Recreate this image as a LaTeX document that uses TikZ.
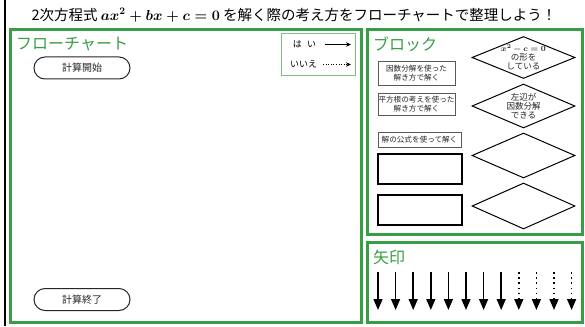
\documentclass[tikz,border=0pt]{standalone}
\usepackage{fontspec}
\setmainfont{Noto Sans CJK JP}
\usepackage{amsmath}
\usetikzlibrary{shapes.geometric,arrows.meta}
\definecolor{pgreen}{RGB}{56,158,70}
\definecolor{lgreen}{RGB}{125,192,128}
\begin{document}
\begin{tikzpicture}[x=1pt,y=-1pt,
  panel/.style={draw=pgreen,line width=3pt},
  ptitle/.style={text=pgreen,font=\fontsize{16}{16}\selectfont,anchor=west,inner sep=0pt},
  term/.style={draw=black!85,line width=1pt,rounded corners=11pt,minimum width=96pt,minimum height=22pt,inner sep=0pt,font=\fontsize{10}{10}\selectfont,text=black!85},
  blk/.style={draw=black!65,line width=0.8pt,inner sep=0pt,align=center,font=\fontsize{7.6}{9}\selectfont,text=black!85},
  eblk/.style={draw=black,line width=1.5pt,minimum width=84pt,minimum height=30pt,inner sep=0pt},
  diam/.style={draw=black,line width=1pt,diamond,minimum width=103pt,minimum height=44pt,inner sep=0pt},
  dtext/.style={align=center,font=\fontsize{8.5}{9}\selectfont,inner sep=0pt,text=black!85},
  solidarr/.style={line width=1.5pt,-{Triangle[width=9pt,length=11pt]}},
  dotarr/.style={line width=1.6pt,dash pattern=on 1.6pt off 3.6pt,-{Triangle[width=9pt,length=11pt]}},
  legtext/.style={font=\fontsize{9}{9}\selectfont,inner sep=0pt}]
\useasboundingbox (0,0) rectangle (585,326);
\fill[white] (0,0) rectangle (585,326);
% outer black line
\draw[black,line width=2pt] (5,0) -- (5,326);
% title
\node[inner sep=0pt,font=\fontsize{14.5}{14.5}\selectfont] (title) at (294,15)
  {2次方程式 {\boldmath$ax^2+bx+c=0$} を解く際の考え方をフローチャートで整理しよう！};
% panels
\draw[panel] (10,29.5) rectangle (361,322.5);
\draw[panel] (367,29.5) rectangle (582.5,234.5);
\draw[panel] (367,242) rectangle (582.5,322.5);
\node[ptitle] (tflow) at (16,44) {フローチャート};
\node[ptitle] (tblock) at (373,44) {ブロック};
\node[ptitle] (tarrow) at (373,257) {矢印};
% legend
\draw[draw=lgreen,line width=1pt] (281,33.5) rectangle (355,75.5);
\node[legtext] (yes) at (304.5,44.5) {は\hspace{0.6em}い};
\node[legtext] (no) at (303.5,64.5) {いいえ};
\coordinate (ya) at (325,44.5);
\coordinate (yb) at (351,44.5);
\coordinate (na) at (323,64.5);
\coordinate (nb) at (351,64.5);
\draw[line width=1pt,-{Stealth[length=5pt,width=4.5pt]}] (ya) -- (yb);
\draw[line width=1pt,dash pattern=on 1pt off 1.6pt,-{Stealth[length=5pt,width=4.5pt]}] (na) -- (nb);
% terminals
\node[term] (start) at (82,68) {計算開始};
\node[term] (end) at (82,299.5) {計算終了};
% blocks
\node[blk,minimum width=77pt,minimum height=24pt] (b1) at (416.5,73) {因数分解を使った\\解き方で解く};
\node[blk,minimum width=77pt,minimum height=22pt] (b2) at (416.5,104.5) {平方根の考えを使った\\解き方で解く};
\node[blk,minimum width=83pt,minimum height=15pt] (b3) at (419.5,139.5) {解の公式を使って解く};
\node[eblk] (b4) at (420,169) {};
\node[eblk] (b5) at (420,210) {};
% diamonds
\node[diam,minimum height=42pt] (d1) at (523.5,57.5) {};
\node[dtext] (d1t) at (d1.center) {{\boldmath$x^2-c=0$}\\の形を\\している};
\node[diam] (d2) at (523.5,106) {};
\node[dtext] (d2t) at (d2.center) {左辺が\\因数分解\\できる};
\node[diam,minimum height=45pt] (d3) at (523.5,155.5) {};
\node[diam,minimum height=46pt] (d4) at (523.5,206) {};
% arrows
\foreach \i/\x in {1/378,2/395.6,3/413.2,4/430.8,5/448.4,6/466,7/483.6,8/501.2}{
  \coordinate (s\i) at (\x,272);
  \coordinate (e\i) at (\x,310);
  \draw[solidarr] (s\i) -- (e\i);
}
\foreach \i/\x in {9/518.8,10/536.4,11/554,12/571.6}{
  \coordinate (s\i) at (\x,272);
  \coordinate (e\i) at (\x,310);
  \draw[dotarr] (s\i) -- (e\i);
}
\end{tikzpicture}
\end{document}
